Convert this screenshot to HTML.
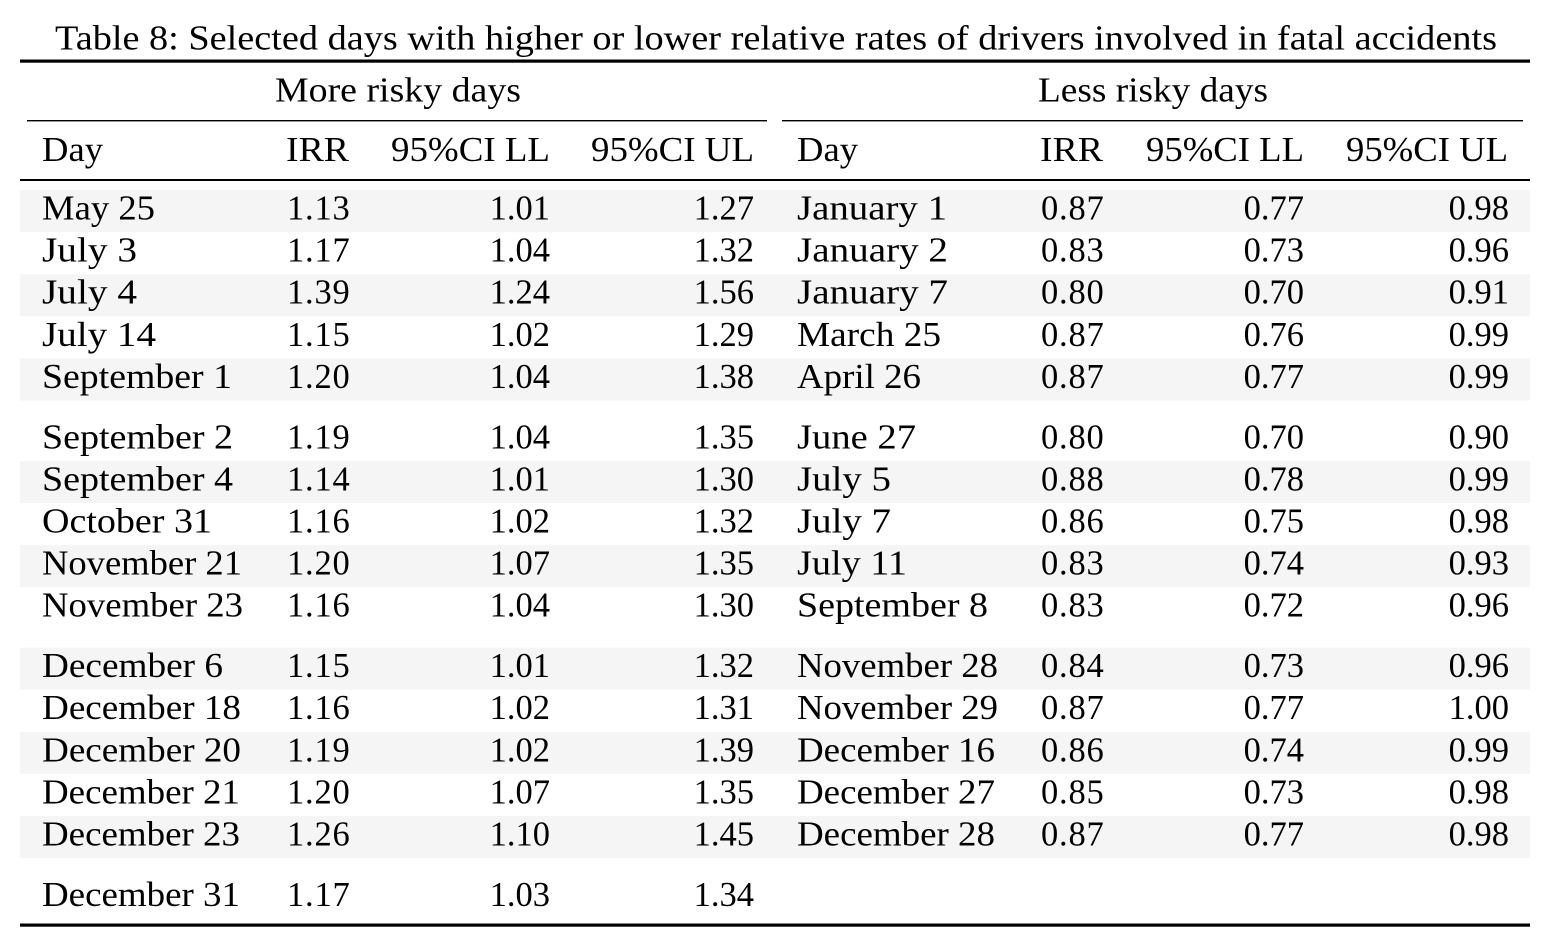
<!DOCTYPE html>
<html>
<head>
<meta charset="utf-8">
<style>
html,body{margin:0;padding:0;background:#fff;}
svg{display:block;}
text{font-family:"Liberation Serif",serif;font-size:34.5px;fill:#000;}
.irr text{letter-spacing:0.8px;}
</style>
</head>
<body>
<svg width="1558" height="952" viewBox="0 0 1558 952" xmlns="http://www.w3.org/2000/svg">
<rect x="0" y="0" width="1558" height="952" fill="#fff"/>
<g fill="#f5f5f5">
<rect x="20" y="190" width="1510" height="42.1"/>
<rect x="20" y="274.2" width="1510" height="42.1"/>
<rect x="20" y="358.4" width="1510" height="42.1"/>
<rect x="20" y="460.9" width="1510" height="42.1"/>
<rect x="20" y="545.1" width="1510" height="42.1"/>
<rect x="20" y="647.6" width="1510" height="42.1"/>
<rect x="20" y="731.8" width="1510" height="42.1"/>
<rect x="20" y="816.0" width="1510" height="42.1"/>
</g>
<rect x="20" y="59.5" width="1510" height="3.2" fill="#000"/>
<rect x="27" y="120" width="740" height="1.4" fill="#000"/>
<rect x="782" y="120" width="741" height="1.4" fill="#000"/>
<rect x="20" y="179" width="1510" height="2" fill="#000"/>
<rect x="20" y="923.5" width="1510" height="3.2" fill="#000"/>

<text x="55" y="49.5" textLength="1442" lengthAdjust="spacingAndGlyphs">Table 8: Selected days with higher or lower relative rates of drivers involved in fatal accidents</text>

<text x="275" y="101.5" textLength="246" lengthAdjust="spacingAndGlyphs">More risky days</text>
<text x="1038" y="101.5" textLength="230" lengthAdjust="spacingAndGlyphs">Less risky days</text>

<text x="42" y="161" textLength="61" lengthAdjust="spacingAndGlyphs">Day</text>
<text x="286" y="161" textLength="63" lengthAdjust="spacingAndGlyphs">IRR</text>
<text x="391" y="161" textLength="159" lengthAdjust="spacingAndGlyphs">95%CI LL</text>
<text x="591" y="161" textLength="163" lengthAdjust="spacingAndGlyphs">95%CI UL</text>
<text x="797" y="161" textLength="61" lengthAdjust="spacingAndGlyphs">Day</text>
<text x="1040" y="161" textLength="63" lengthAdjust="spacingAndGlyphs">IRR</text>
<text x="1146" y="161" textLength="158" lengthAdjust="spacingAndGlyphs">95%CI LL</text>
<text x="1346" y="161" textLength="162" lengthAdjust="spacingAndGlyphs">95%CI UL</text>

<g>
<text x="42" y="219.5" textLength="113" lengthAdjust="spacingAndGlyphs">May 25</text>
<text x="42" y="261.6" textLength="95" lengthAdjust="spacingAndGlyphs">July 3</text>
<text x="42" y="303.7" textLength="95" lengthAdjust="spacingAndGlyphs">July 4</text>
<text x="42" y="345.8" textLength="114" lengthAdjust="spacingAndGlyphs">July 14</text>
<text x="42" y="387.9" textLength="190" lengthAdjust="spacingAndGlyphs">September 1</text>
<text x="42" y="448.3" textLength="191" lengthAdjust="spacingAndGlyphs">September 2</text>
<text x="42" y="490.4" textLength="191" lengthAdjust="spacingAndGlyphs">September 4</text>
<text x="42" y="532.5" textLength="170" lengthAdjust="spacingAndGlyphs">October 31</text>
<text x="42" y="574.6" textLength="200" lengthAdjust="spacingAndGlyphs">November 21</text>
<text x="42" y="616.7" textLength="201" lengthAdjust="spacingAndGlyphs">November 23</text>
<text x="42" y="677.1" textLength="181" lengthAdjust="spacingAndGlyphs">December 6</text>
<text x="42" y="719.2" textLength="199" lengthAdjust="spacingAndGlyphs">December 18</text>
<text x="42" y="761.3" textLength="199" lengthAdjust="spacingAndGlyphs">December 20</text>
<text x="42" y="803.4" textLength="198" lengthAdjust="spacingAndGlyphs">December 21</text>
<text x="42" y="845.5" textLength="198" lengthAdjust="spacingAndGlyphs">December 23</text>
<text x="42" y="905.9" textLength="198" lengthAdjust="spacingAndGlyphs">December 31</text>
</g>
<g class="irr">
<text x="287" y="219.5">1.13</text>
<text x="287" y="261.6">1.17</text>
<text x="287" y="303.7">1.39</text>
<text x="287" y="345.8">1.15</text>
<text x="287" y="387.9">1.20</text>
<text x="287" y="448.3">1.19</text>
<text x="287" y="490.4">1.14</text>
<text x="287" y="532.5">1.16</text>
<text x="287" y="574.6">1.20</text>
<text x="287" y="616.7">1.16</text>
<text x="287" y="677.1">1.15</text>
<text x="287" y="719.2">1.16</text>
<text x="287" y="761.3">1.19</text>
<text x="287" y="803.4">1.20</text>
<text x="287" y="845.5">1.26</text>
<text x="287" y="905.9">1.17</text>
</g>
<g text-anchor="end">
<text x="550" y="219.5">1.01</text>
<text x="550" y="261.6">1.04</text>
<text x="550" y="303.7">1.24</text>
<text x="550" y="345.8">1.02</text>
<text x="550" y="387.9">1.04</text>
<text x="550" y="448.3">1.04</text>
<text x="550" y="490.4">1.01</text>
<text x="550" y="532.5">1.02</text>
<text x="550" y="574.6">1.07</text>
<text x="550" y="616.7">1.04</text>
<text x="550" y="677.1">1.01</text>
<text x="550" y="719.2">1.02</text>
<text x="550" y="761.3">1.02</text>
<text x="550" y="803.4">1.07</text>
<text x="550" y="845.5">1.10</text>
<text x="550" y="905.9">1.03</text>
</g>
<g text-anchor="end">
<text x="754" y="219.5">1.27</text>
<text x="754" y="261.6">1.32</text>
<text x="754" y="303.7">1.56</text>
<text x="754" y="345.8">1.29</text>
<text x="754" y="387.9">1.38</text>
<text x="754" y="448.3">1.35</text>
<text x="754" y="490.4">1.30</text>
<text x="754" y="532.5">1.32</text>
<text x="754" y="574.6">1.35</text>
<text x="754" y="616.7">1.30</text>
<text x="754" y="677.1">1.32</text>
<text x="754" y="719.2">1.31</text>
<text x="754" y="761.3">1.39</text>
<text x="754" y="803.4">1.35</text>
<text x="754" y="845.5">1.45</text>
<text x="754" y="905.9">1.34</text>
</g>

<g>
<text x="797" y="219.5" textLength="150" lengthAdjust="spacingAndGlyphs">January 1</text>
<text x="797" y="261.6" textLength="151" lengthAdjust="spacingAndGlyphs">January 2</text>
<text x="797" y="303.7" textLength="151" lengthAdjust="spacingAndGlyphs">January 7</text>
<text x="797" y="345.8" textLength="144" lengthAdjust="spacingAndGlyphs">March 25</text>
<text x="797" y="387.9" textLength="124" lengthAdjust="spacingAndGlyphs">April 26</text>
<text x="797" y="448.3" textLength="119" lengthAdjust="spacingAndGlyphs">June 27</text>
<text x="797" y="490.4" textLength="94" lengthAdjust="spacingAndGlyphs">July 5</text>
<text x="797" y="532.5" textLength="94" lengthAdjust="spacingAndGlyphs">July 7</text>
<text x="797" y="574.6" textLength="110" lengthAdjust="spacingAndGlyphs">July 11</text>
<text x="797" y="616.7" textLength="191" lengthAdjust="spacingAndGlyphs">September 8</text>
<text x="797" y="677.1" textLength="201" lengthAdjust="spacingAndGlyphs">November 28</text>
<text x="797" y="719.2" textLength="201" lengthAdjust="spacingAndGlyphs">November 29</text>
<text x="797" y="761.3" textLength="198" lengthAdjust="spacingAndGlyphs">December 16</text>
<text x="797" y="803.4" textLength="198" lengthAdjust="spacingAndGlyphs">December 27</text>
<text x="797" y="845.5" textLength="198" lengthAdjust="spacingAndGlyphs">December 28</text>
</g>
<g class="irr">
<text x="1041" y="219.5">0.87</text>
<text x="1041" y="261.6">0.83</text>
<text x="1041" y="303.7">0.80</text>
<text x="1041" y="345.8">0.87</text>
<text x="1041" y="387.9">0.87</text>
<text x="1041" y="448.3">0.80</text>
<text x="1041" y="490.4">0.88</text>
<text x="1041" y="532.5">0.86</text>
<text x="1041" y="574.6">0.83</text>
<text x="1041" y="616.7">0.83</text>
<text x="1041" y="677.1">0.84</text>
<text x="1041" y="719.2">0.87</text>
<text x="1041" y="761.3">0.86</text>
<text x="1041" y="803.4">0.85</text>
<text x="1041" y="845.5">0.87</text>
</g>
<g text-anchor="end">
<text x="1304" y="219.5">0.77</text>
<text x="1304" y="261.6">0.73</text>
<text x="1304" y="303.7">0.70</text>
<text x="1304" y="345.8">0.76</text>
<text x="1304" y="387.9">0.77</text>
<text x="1304" y="448.3">0.70</text>
<text x="1304" y="490.4">0.78</text>
<text x="1304" y="532.5">0.75</text>
<text x="1304" y="574.6">0.74</text>
<text x="1304" y="616.7">0.72</text>
<text x="1304" y="677.1">0.73</text>
<text x="1304" y="719.2">0.77</text>
<text x="1304" y="761.3">0.74</text>
<text x="1304" y="803.4">0.73</text>
<text x="1304" y="845.5">0.77</text>
</g>
<g text-anchor="end">
<text x="1509" y="219.5">0.98</text>
<text x="1509" y="261.6">0.96</text>
<text x="1509" y="303.7">0.91</text>
<text x="1509" y="345.8">0.99</text>
<text x="1509" y="387.9">0.99</text>
<text x="1509" y="448.3">0.90</text>
<text x="1509" y="490.4">0.99</text>
<text x="1509" y="532.5">0.98</text>
<text x="1509" y="574.6">0.93</text>
<text x="1509" y="616.7">0.96</text>
<text x="1509" y="677.1">0.96</text>
<text x="1509" y="719.2">1.00</text>
<text x="1509" y="761.3">0.99</text>
<text x="1509" y="803.4">0.98</text>
<text x="1509" y="845.5">0.98</text>
</g>
</svg>
</body>
</html>
